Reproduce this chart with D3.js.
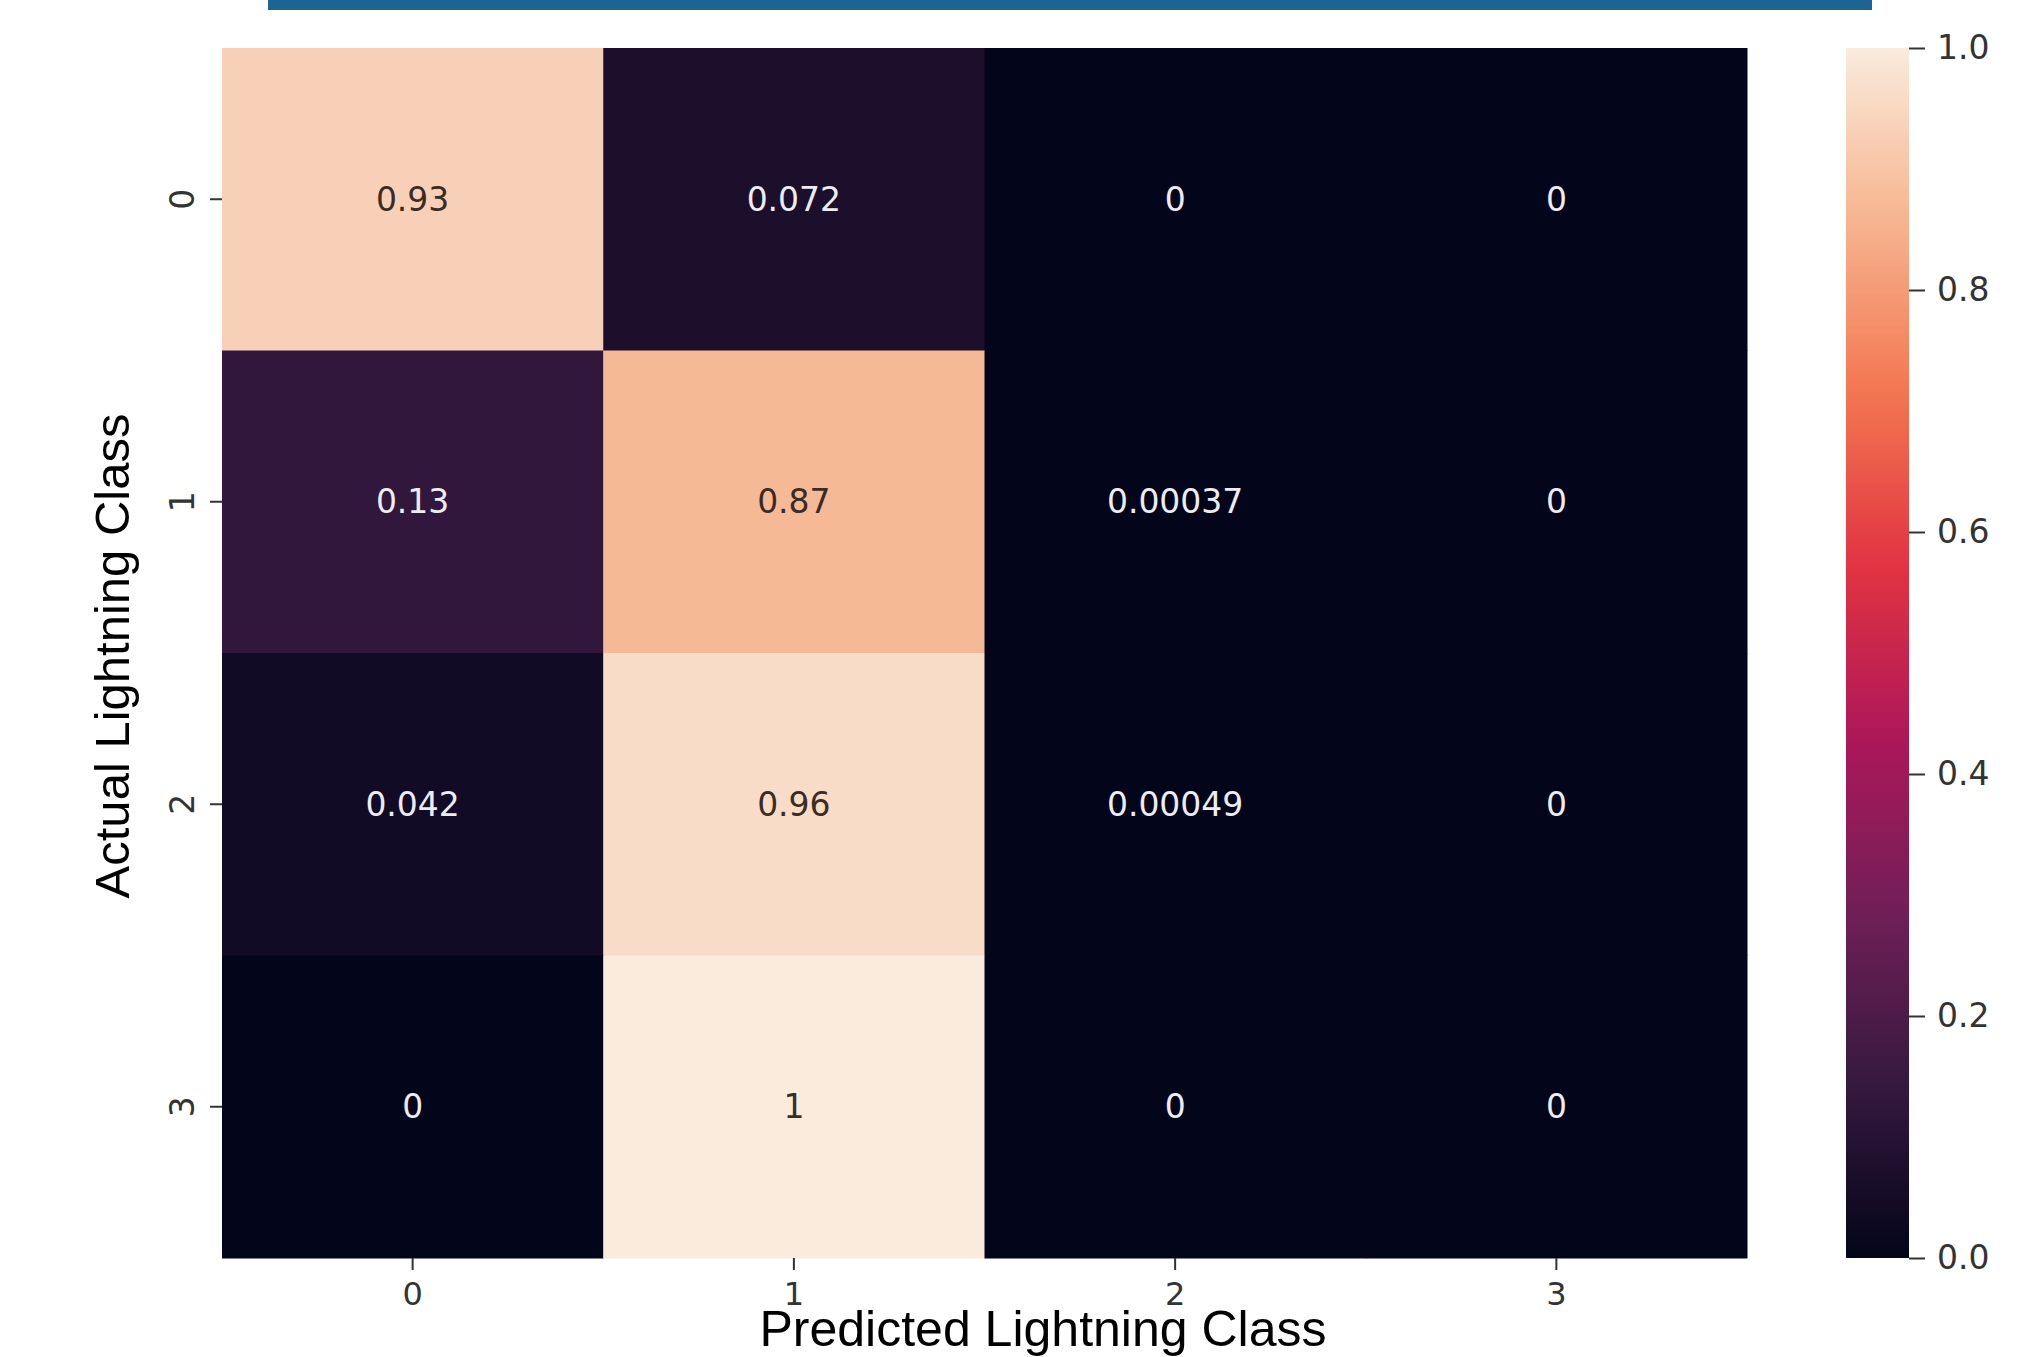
<!DOCTYPE html>
<html>
<head>
<meta charset="utf-8">
<script src="https://cdn.jsdelivr.net/npm/d3@7"></script>
<style>
  body { margin: 0; background: #fff; }
  svg { display: block; }
</style>
</head>
<body>
<svg id="chart" width="2037" height="1357"></svg>
<script>
// classes on both axes
const actualClasses = ["0", "1", "2", "3"];
const predictedClasses = ["0", "1", "2", "3"];

// normalised confusion matrix, one row per actual class
const row0 = [0.93, 0.072, 0, 0];
const row1 = [0.13, 0.87, 0.00037, 0];
const row2 = [0.042, 0.96, 0.00049, 0];
const row3 = [0, 1, 0, 0];
const matrixRows = [row0, row1, row2, row3];
const cellLabels = [
    ["0.93", "0.072", "0", "0"],
    ["0.13", "0.87", "0.00037", "0"],
    ["0.042", "0.96", "0.00049", "0"],
    ["0", "1", "0", "0"]
];

const colorbarTicks = [0, 0.2, 0.4, 0.6, 0.8, 1.0];

// rocket colormap stops (seaborn)
const rocketStops = ["#03051a", "#35193e", "#701f57", "#ad1759", "#e13342", "#f37651", "#f6b48f", "#faebdd"];

const cells = [];
matrixRows.forEach((row, i) => {
    row.forEach((v, j) => {
        cells.push({ actual: actualClasses[i], predicted: predictedClasses[j], value: v, label: cellLabels[i][j] });
    });
});

const plot = { left: 222, right: 1747, top: 48, bottom: 1258 };
const cbar = { left: 1846, right: 1909 };

const svg = d3.select('#chart');

const colorScale = d3.scaleLinear()
    .domain(rocketStops.map((d, i) => i / (rocketStops.length - 1)))
    .range(rocketStops)
    .interpolate(d3.interpolateRgb)
    .clamp(true);

const xScale = d3.scaleBand()
    .domain(predictedClasses)
    .range([plot.left, plot.right]);

const yScale = d3.scaleBand()
    .domain(actualClasses)
    .range([plot.top, plot.bottom]);

// top banner strip
svg.append('rect')
    .attr('x', 268)
    .attr('y', 0)
    .attr('width', 1872 - 268)
    .attr('height', 10)
    .attr('fill', '#1c6592');

// heatmap cells
svg.append('g')
    .selectAll('rect')
    .data(cells)
    .join('rect')
    .attr('x', d => xScale(d.predicted))
    .attr('y', d => yScale(d.actual))
    .attr('width', xScale.bandwidth() + 0.5)
    .attr('height', yScale.bandwidth() + 0.5)
    .attr('fill', d => colorScale(d.value));

// annotations, dark text on light cells like seaborn
svg.append('g')
    .selectAll('text')
    .data(cells)
    .join('text')
    .attr('x', d => xScale(d.predicted) + xScale.bandwidth() / 2)
    .attr('y', d => yScale(d.actual) + yScale.bandwidth() / 2)
    .attr('text-anchor', 'middle')
    .attr('dominant-baseline', 'central')
    .style('font-family', 'DejaVu Sans')
    .style('font-size', '33px')
    .style('fill', d => d3.hsl(colorScale(d.value)).l > 0.5 ? '#3a2c25' : '#ececf2')
    .text(d => d.label);

// x axis
const xAxis = svg.append('g')
    .attr('transform', `translate(0, ${plot.bottom})`)
    .call(d3.axisBottom(xScale).tickSize(12).tickPadding(12));
xAxis.select('.domain').remove();
xAxis.selectAll('line').attr('stroke', '#333').attr('stroke-width', 2);
xAxis.selectAll('text')
    .style('font-family', 'DejaVu Sans')
    .style('font-size', '32px')
    .attr('fill', '#333');

// y axis, labels turned sideways
const yAxis = svg.append('g')
    .attr('transform', `translate(${plot.left}, 0)`)
    .call(d3.axisLeft(yScale).tickSize(12));
yAxis.select('.domain').remove();
yAxis.selectAll('line').attr('stroke', '#333').attr('stroke-width', 2);
yAxis.selectAll('text')
    .attr('x', null)
    .attr('dy', null)
    .attr('text-anchor', 'middle')
    .attr('dominant-baseline', 'central')
    .attr('transform', 'translate(-40, 0) rotate(-90)')
    .style('font-family', 'DejaVu Sans')
    .style('font-size', '33px')
    .attr('fill', '#333');

// colorbar
const cbScale = d3.scaleLinear()
    .domain([0, 1])
    .range([plot.bottom, plot.top]);

const grad = svg.append('defs').append('linearGradient')
    .attr('id', 'cbar-grad')
    .attr('x1', 0).attr('y1', 1)
    .attr('x2', 0).attr('y2', 0);
grad.selectAll('stop')
    .data(d3.range(0, 1.0001, 0.02))
    .join('stop')
    .attr('offset', d => d)
    .attr('stop-color', d => colorScale(d));

svg.append('rect')
    .attr('x', cbar.left)
    .attr('y', plot.top)
    .attr('width', cbar.right - cbar.left)
    .attr('height', plot.bottom - plot.top)
    .attr('fill', 'url(#cbar-grad)');

const cbAxis = svg.append('g')
    .attr('transform', `translate(${cbar.right}, 0)`)
    .call(d3.axisRight(cbScale).tickValues(colorbarTicks).tickFormat(d3.format('.1f')).tickSize(16).tickPadding(12));
cbAxis.select('.domain').remove();
cbAxis.selectAll('line').attr('stroke', '#333').attr('stroke-width', 2);
cbAxis.selectAll('text')
    .style('font-family', 'DejaVu Sans')
    .style('font-size', '33px')
    .attr('fill', '#333');

// axis titles
svg.append('text')
    .attr('transform', 'translate(129, 656) rotate(-90)')
    .attr('text-anchor', 'middle')
    .style('font-family', 'Liberation Sans, Arial, sans-serif')
    .style('font-size', '49px')
    .style('fill', '#000')
    .text('Actual Lightning Class');

svg.append('text')
    .attr('x', 1043)
    .attr('y', 1346)
    .attr('text-anchor', 'middle')
    .style('font-family', 'Liberation Sans, Arial, sans-serif')
    .style('font-size', '50px')
    .style('fill', '#000')
    .text('Predicted Lightning Class');
</script>
</body>
</html>
